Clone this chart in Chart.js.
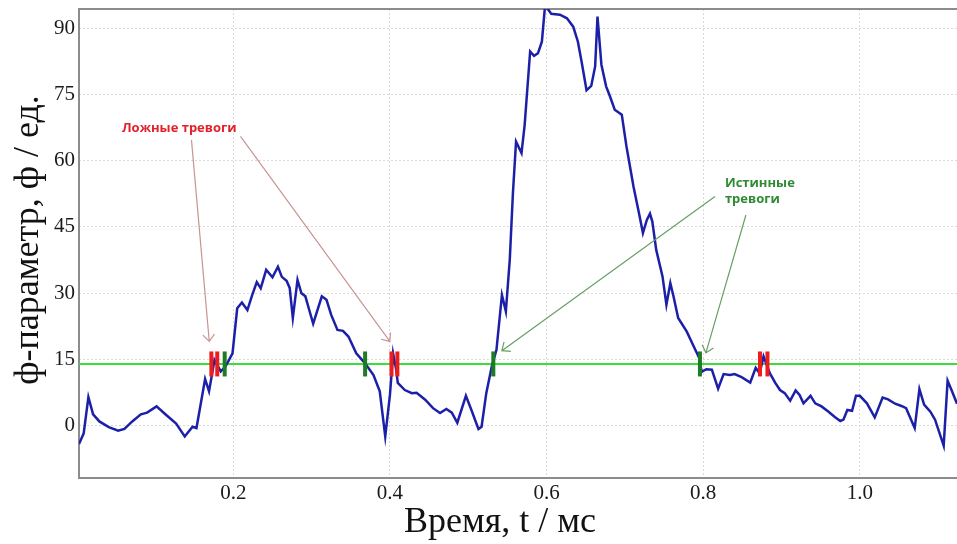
<!DOCTYPE html>
<html>
<head>
<meta charset="utf-8">
<script src="https://cdn.jsdelivr.net/npm/chart.js@4"></script>
<style>
body{margin:0;background:#fff;}
#wrap{width:957px;height:544px;}
</style>
</head>
<body>
<div id="wrap"><canvas id="canvas" width="957" height="544"></canvas></div>
<script>
// time, ms
var timeMs = [
	0.003, 0.009, 0.015, 0.021, 0.029, 0.041, 0.053, 0.061, 0.071, 0.082,
	0.090, 0.102, 0.114, 0.127, 0.138, 0.148, 0.153, 0.164, 0.169, 0.176,
	0.184, 0.190, 0.199, 0.205, 0.211, 0.218, 0.224, 0.230, 0.235, 0.242,
	0.250, 0.257, 0.262, 0.268, 0.272, 0.276, 0.282, 0.287, 0.292, 0.302,
	0.313, 0.319, 0.325, 0.333, 0.340, 0.347, 0.357, 0.368, 0.379, 0.387,
	0.394, 0.400, 0.404, 0.408, 0.410, 0.419, 0.428, 0.434, 0.445, 0.455,
	0.464, 0.472, 0.479, 0.486, 0.497, 0.504, 0.513, 0.517, 0.523, 0.530,
	0.536, 0.543, 0.548, 0.553, 0.557, 0.561, 0.568, 0.572, 0.579, 0.584,
	0.589, 0.594, 0.598, 0.602, 0.606, 0.617, 0.626, 0.634, 0.640, 0.645,
	0.651, 0.657, 0.662, 0.665, 0.670, 0.676, 0.681, 0.687, 0.696, 0.702,
	0.711, 0.718, 0.723, 0.728, 0.732, 0.735, 0.740, 0.748, 0.753, 0.758,
	0.762, 0.768, 0.779, 0.787, 0.795, 0.798, 0.804, 0.811, 0.819, 0.826,
	0.834, 0.840, 0.849, 0.860, 0.867, 0.872, 0.877, 0.885, 0.892, 0.898,
	0.904, 0.911, 0.918, 0.923, 0.928, 0.937, 0.943, 0.951, 0.960, 0.968,
	0.975, 0.979, 0.984, 0.990, 0.995, 1.000, 1.009, 1.019, 1.029, 1.036,
	1.045, 1.053, 1.059, 1.070, 1.076, 1.082, 1.090, 1.096, 1.107, 1.112,
	1.117, 1.124
];
// phi-parameter
var phiValues = [
	-4.1, -1.7, 6.5, 2.6, 1.0, -0.3, -1.1, -0.7, 1.0, 2.6,
	3.0, 4.4, 2.5, 0.5, -2.4, -0.2, -0.5, 10.6, 7.8, 14.9,
	12.3, 13.4, 16.4, 26.6, 27.9, 26.2, 29.5, 32.5, 31.1, 35.3,
	33.6, 36.0, 33.7, 32.8, 31.2, 24.4, 33.0, 30.0, 29.3, 23.1,
	29.3, 28.5, 25.1, 21.7, 21.5, 20.2, 16.4, 14.2, 11.5, 7.8,
	-2.4, 7.0, 16.4, 12.7, 9.7, 8.1, 7.4, 7.5, 5.9, 4.0,
	2.9, 3.8, 3.0, 0.7, 6.8, 3.6, -0.7, -0.2, 7.4, 13.4,
	17.2, 29.6, 25.9, 37.6, 52.6, 64.3, 61.7, 68.1, 84.7, 83.7,
	84.3, 86.9, 95.0, 94.2, 93.2, 93.0, 92.2, 90.3, 86.9, 82.1,
	75.9, 76.9, 81.3, 92.6, 81.7, 76.8, 74.5, 71.5, 70.4, 63.2,
	54.1, 48.1, 43.6, 46.6, 48.0, 46.2, 39.8, 33.8, 27.4, 32.3,
	29.3, 24.4, 21.3, 18.3, 15.3, 12.2, 12.8, 12.7, 8.4, 11.7,
	11.5, 11.7, 11.0, 9.8, 13.1, 11.9, 15.7, 11.9, 9.7, 8.1,
	7.4, 5.7, 8.0, 7.0, 5.1, 6.8, 5.1, 4.4, 3.2, 2.0,
	1.1, 1.4, 3.6, 3.4, 6.8, 6.8, 5.1, 1.9, 6.4, 6.0,
	5.0, 4.5, 4.0, -0.5, 8.3, 4.8, 3.2, 1.4, -4.5, 10.2,
	8.1, 5.0
];
var threshold = 14;
var falseAlarmBars = [0.172, 0.1795, 0.402, 0.4095, 0.8725, 0.882];
var trueAlarmBars = [0.189, 0.3683, 0.532, 0.7958];
var xTicks = [0.2, 0.4, 0.6, 0.8, 1.0];
var yTicks = [0, 15, 30, 45, 60, 75, 90];
var xRange = [0.003, 1.124];
var yRange = [-11.8, 94.3];

var seriesPoints = timeMs.map(function(t, i){ return {x: t, y: phiValues[i]}; });
var thresholdPoints = [{x: xRange[0], y: threshold}, {x: xRange[1], y: threshold}];
var falsePoints = falseAlarmBars.map(function(t){ return {x: t, y: threshold}; });
var truePoints = trueAlarmBars.map(function(t){ return {x: t, y: threshold}; });

// callouts, positioned in data units
var callouts = [
	{lines: ['Ложные тревоги'], x: 0.131, y: 67.4, align: 'center', color: '#e3202c', arrowColor: '#c99494',
		arrows: [[0.1466, 64.7, 0.1693, 19.1], [0.2092, 65.5, 0.3999, 19.1]]},
	{lines: ['Истинные', 'тревоги'], x: 0.8277, y: 54.9, align: 'left', color: '#2f8a34', arrowColor: '#679f67',
		arrows: [[0.815, 51.9, 0.5429, 17.0], [0.8545, 47.7, 0.8034, 16.5]]}
];

function drawArrow(ctx, x1, y1, x2, y2){
	var ang = Math.atan2(y2 - y1, x2 - x1);
	var len = 9, spread = 0.7;
	ctx.beginPath();
	ctx.moveTo(x1, y1);
	ctx.lineTo(x2, y2);
	ctx.moveTo(x2 - len * Math.cos(ang - spread), y2 - len * Math.sin(ang - spread));
	ctx.lineTo(x2, y2);
	ctx.lineTo(x2 - len * Math.cos(ang + spread), y2 - len * Math.sin(ang + spread));
	ctx.stroke();
}

var decorPlugin = {
	id: 'decor',
	beforeDatasetsDraw: function(chart){
		var ctx = chart.ctx, a = chart.chartArea;
		ctx.save();
		ctx.strokeStyle = '#8c8c8c';
		ctx.lineWidth = 2;
		ctx.beginPath();
		ctx.moveTo(a.right + 2, a.top);
		ctx.lineTo(a.left, a.top);
		ctx.lineTo(a.left, a.bottom);
		ctx.lineTo(a.right + 2, a.bottom);
		ctx.stroke();
		ctx.restore();
	},
	afterDatasetsDraw: function(chart){
		var ctx = chart.ctx, xs = chart.scales.x, ys = chart.scales.y;
		ctx.save();
		callouts.forEach(function(c){
			ctx.strokeStyle = c.arrowColor;
			ctx.lineWidth = 1.2;
			c.arrows.forEach(function(ar){
				drawArrow(ctx, xs.getPixelForValue(ar[0]), ys.getPixelForValue(ar[1]),
					xs.getPixelForValue(ar[2]), ys.getPixelForValue(ar[3]));
			});
			ctx.fillStyle = c.color;
			ctx.font = 'bold 13px "Open Sans"';
			ctx.textAlign = c.align;
			ctx.textBaseline = 'middle';
			var px = xs.getPixelForValue(c.x), py = ys.getPixelForValue(c.y);
			c.lines.forEach(function(line, i){
				ctx.fillText(line, px, py + i * 16);
			});
		});
		ctx.restore();
	},
	afterDraw: function(chart){
		var ctx = chart.ctx;
		ctx.save();
		ctx.fillStyle = '#111';
		ctx.font = '36px "Liberation Serif"';
		ctx.textAlign = 'center';
		ctx.textBaseline = 'middle';
		ctx.fillText('Время, t / мс', 500, 523);
		ctx.translate(29, 240);
		ctx.rotate(-Math.PI / 2);
		ctx.fillText('ф-параметр, ф / ед.', 0, 0);
		ctx.restore();
	}
};

var config = {
	type: 'line',
	data: {
		datasets: [
			{
				label: 'false alarms',
				data: falsePoints,
				showLine: false,
				pointStyle: 'line',
				pointRotation: 90,
				pointRadius: 12.5,
				pointBorderWidth: 4,
				pointBorderColor: '#f01c1c',
				order: 0
			},
			{
				label: 'true alarms',
				data: truePoints,
				showLine: false,
				pointStyle: 'line',
				pointRotation: 90,
				pointRadius: 12.5,
				pointBorderWidth: 4,
				pointBorderColor: '#1e7d22',
				order: 1
			},
			{
				label: 'phi',
				data: seriesPoints,
				borderColor: '#1c20a8',
				borderWidth: 2.5,
				pointRadius: 0,
				tension: 0,
				fill: false,
				order: 2
			},
			{
				label: 'threshold',
				data: thresholdPoints,
				borderColor: '#3ddc3d',
				borderWidth: 2,
				pointRadius: 0,
				fill: false,
				order: 3
			}
		]
	},
	options: {
		responsive: false,
		animation: false,
		events: [],
		layout: {autoPadding: false, padding: {top: 9, right: 0, left: 0, bottom: 0}},
		plugins: {legend: {display: false}, tooltip: {enabled: false}},
		scales: {
			x: {
				type: 'linear',
				min: xRange[0],
				max: xRange[1],
				afterBuildTicks: function(s){ s.ticks = xTicks.map(function(v){ return {value: v}; }); },
				afterFit: function(s){ s.height = 66; s.paddingLeft = 0; s.paddingRight = 0; },
				grid: {color: '#dadada', lineWidth: 1, drawTicks: false},
				border: {display: false, dash: [2, 2]},
				ticks: {
					padding: 3,
					color: '#1a1a1a',
					font: {family: 'Liberation Serif', size: 21},
					callback: function(v){ return v.toFixed(1); }
				}
			},
			y: {
				min: yRange[0],
				max: yRange[1],
				afterBuildTicks: function(s){ s.ticks = yTicks.map(function(v){ return {value: v}; }); },
				afterFit: function(s){ s.width = 79; s.paddingTop = 0; s.paddingBottom = 0; },
				grid: {color: '#dadada', lineWidth: 1, drawTicks: false},
				border: {display: false, dash: [2, 2]},
				ticks: {
					padding: 4,
					color: '#1a1a1a',
					font: {family: 'Liberation Serif', size: 21},
					callback: function(v){ return String(v); }
				}
			}
		}
	},
	plugins: [decorPlugin]
};

var ctx = document.getElementById('canvas').getContext('2d');
window.myLine = new Chart(ctx, config);
</script>
</body>
</html>
